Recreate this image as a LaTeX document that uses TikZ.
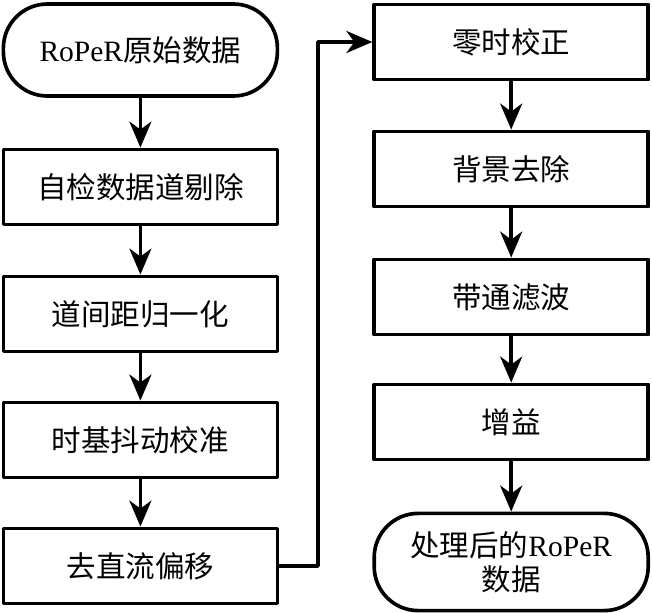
\documentclass[tikz,border=0pt]{standalone}
\usepackage{fontspec}
\setmainfont{Liberation Serif}
\newfontfamily\cjk{Noto Sans CJK SC}
\usepackage{tikz}
\usetikzlibrary{arrows.meta}
\tikzset{
  every picture/.style={
    line join=round,
    >={Stealth[length=6.5mm,width=5.5mm,inset=2mm]},
  },
  proc/.style={draw, line width=2.6pt, rectangle, minimum width=6.85cm,
    minimum height=1.88cm, font=\fontsize{21pt}{26pt}\selectfont, align=center},
  term/.style={proc, rounded corners=1.1cm},
  flow/.style={->, line width=2.6pt},
}

\begin{document}
\begin{tikzpicture}
    \useasboundingbox (0,0) rectangle (16.3,-15.325);
    % Left column
    \node[term, minimum height=2.3cm] (raw) at (3.51,-1.25) {RoPeR{\cjk 原始数据}};
    \node[proc] (chk)  at (3.51,-4.675) {\cjk 自检数据道剔除};
    \node[proc] (norm) at (3.51,-7.85)  {\cjk 道间距归一化};
    \node[proc] (jit)  at (3.51,-11.0)  {\cjk 时基抖动校准};
    \node[proc] (dc)   at (3.51,-14.15) {\cjk 去直流偏移};
    % Right column
    \node[proc] (zero) at (12.78,-1.05)  {\cjk 零时校正};
    \node[proc] (bg)   at (12.78,-4.225) {\cjk 背景去除};
    \node[proc] (bp)   at (12.78,-7.425) {\cjk 带通滤波};
    \node[proc] (gain) at (12.78,-10.55) {\cjk 增益};
    \node[term, minimum height=2.43cm] (out) at (12.78,-14.05)
        {{\cjk 处理后的}RoPeR\\[-2pt]{\cjk 数据}};
    % Arrows
    \draw[flow] (raw) -- (chk);
    \draw[flow] (chk) -- (norm);
    \draw[flow] (norm) -- (jit);
    \draw[flow] (jit) -- (dc);
    \draw[flow] (zero) -- (bg);
    \draw[flow] (bg) -- (bp);
    \draw[flow] (bp) -- (gain);
    \draw[flow] (gain) -- (out);
    % Link between columns
    \coordinate (turn) at (7.95,0);
    \draw[flow] (dc.east) -- (dc.east -| turn) |- (zero.west);
\end{tikzpicture}
\end{document}
